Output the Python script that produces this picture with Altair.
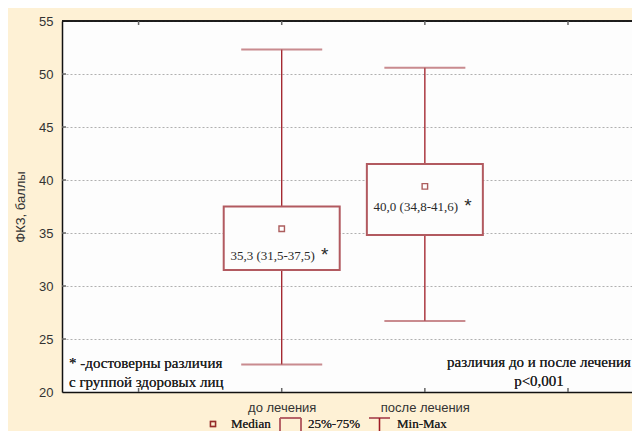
import json
import altair as alt
import pandas as pd

# ---------------- data ----------------
groups = ["до лечения", "после лечения"]
mins = [22.6, 26.7]
q1s = [31.5, 34.8]
medians = [35.4, 39.4]
q3s = [37.5, 41.5]
maxs = [52.3, 50.6]
labels = ["35,3 (31,5-37,5)", "40,0 (34,8-41,6)"]
label_y = [32.8, 37.5]
x_ticks = [0.5, 1.5, 2.5, 3.5]
y_ticks = [20, 25, 30, 35, 40, 45, 50, 55]

# ---------------- layout ----------------
W, H = 570, 371
PX = 145.7                      # pixels per x unit
XMAX = W / PX
BOX_W = 116
CAP_W = 81
BOX_C = "#B25A60"
WHISK_C = "#9E1B24"
SERIF = "Liberation Serif, Times New Roman, serif"
SANS = "Liberation Sans, Arial, sans-serif"

df = pd.DataFrame({
    "group": groups,
    "pos": [i + 1.5 for i in range(len(groups))],
    "mn": mins, "q1": q1s, "med": medians, "q3": q3s, "mx": maxs,
    "label": labels, "ly": label_y,
})
ticks_df = pd.DataFrame({"t": x_ticks})
yt_df = pd.DataFrame({"v": y_ticks[1:-1]})

xscale = alt.Scale(domain=[0, XMAX], nice=False, zero=False)
yscale = alt.Scale(domain=[20, 55], nice=False, zero=False)
label_expr = json.dumps(groups, ensure_ascii=False) + "[round(datum.value - 1.5)]"

base = alt.Chart(df)

whisker = base.mark_rule(color=WHISK_C, strokeWidth=1.3).encode(
    x=alt.X("pos:Q", scale=xscale,
            axis=alt.Axis(values=[1.5, 2.5], labelExpr=label_expr, title=None,
                          grid=False, tickSize=0, labelPadding=9,
                          labelFont=SANS, labelFontSize=13, labelColor="#333",
                          domainColor="#111", domainWidth=1.5)),
    y=alt.Y("mn:Q", scale=yscale,
            axis=alt.Axis(values=y_ticks, title="ФКЗ, баллы", tickSize=0,
                          labelPadding=9, labelFont=SANS, labelFontSize=13,
                          labelColor="#333", titleFont=SANS, titleFontSize=13,
                          titleFontWeight="normal", titleColor="#333",
                          titlePadding=11, grid=True, gridDash=[2, 2],
                          gridColor="#b0b0b0", gridWidth=1,
                          domainColor="#111", domainWidth=1.5)),
    y2="mx:Q",
)

boxes = base.mark_bar(size=BOX_W, fill="#fdfdfd", stroke=BOX_C, strokeWidth=2).encode(
    x=alt.X("pos:Q", scale=xscale), y=alt.Y("q1:Q", scale=yscale), y2="q3:Q"
)

cap_lo = base.mark_tick(orient="horizontal", size=CAP_W, thickness=2, color=BOX_C).encode(
    x=alt.X("pos:Q", scale=xscale), y=alt.Y("mn:Q", scale=yscale)
)
cap_hi = base.mark_tick(orient="horizontal", size=CAP_W, thickness=2, color=BOX_C).encode(
    x=alt.X("pos:Q", scale=xscale), y=alt.Y("mx:Q", scale=yscale)
)

med = base.mark_square(size=30, filled=False, color="#8B1A1A", strokeWidth=1.4, fill="#ffffff").encode(
    x=alt.X("pos:Q", scale=xscale), y=alt.Y("med:Q", scale=yscale)
)

txt = base.mark_text(font=SERIF, fontSize=13, color="#2a2a2a", dx=-9).encode(
    x=alt.X("pos:Q", scale=xscale), y=alt.Y("ly:Q", scale=yscale), text="label:N"
)
star = base.mark_text(font=SANS, fontSize=19, color="#2a2a2a", dx=43, dy=-1).encode(
    x=alt.X("pos:Q", scale=xscale), y=alt.Y("ly:Q", scale=yscale), text=alt.value("*")
)

# frame: top border and inward ticks
top_border = alt.Chart(df).mark_rule(color="#111", strokeWidth=1.5).encode(
    x=alt.value(0), x2=alt.value(W), y=alt.value(0)
)
xt_top = alt.Chart(ticks_df).mark_rule(color="#666", strokeWidth=1.5).encode(
    x=alt.X("t:Q", scale=xscale), y=alt.value(0), y2=alt.value(4)
)
xt_bot = alt.Chart(ticks_df).mark_rule(color="#666", strokeWidth=1.5).encode(
    x=alt.X("t:Q", scale=xscale), y=alt.value(H - 4), y2=alt.value(H)
)
yt = alt.Chart(yt_df).mark_rule(color="#666", strokeWidth=1.5).encode(
    y=alt.Y("v:Q", scale=yscale), x=alt.value(0), x2=alt.value(4)
)

# annotations
def note(text, x, y, align="left"):
    return alt.Chart(df).mark_text(font=SERIF, fontSize=15, color="#222", align=align,
                                   baseline="middle", text=text).encode(
        x=alt.value(x), y=alt.value(y))

notes = [
    note("* -достоверны различия", 7, 342),
    note("с группой здоровых лиц", 7, 361),
    note("различия до и после лечения", 477, 341, "center"),
    note("p<0,001", 477, 360, "center"),
]

# legend
LY = 403
LT = 397
leg = [
    alt.Chart(df).mark_square(size=26, filled=False, color="#8B1A1A", strokeWidth=1.4).encode(
        x=alt.value(151), y=alt.value(LY)),
    alt.Chart(df).mark_text(font=SERIF, fontSize=13, color="#222", align="left",
                            baseline="middle", text="Median").encode(x=alt.value(169), y=alt.value(LY)),
    alt.Chart(df).mark_rule(color=BOX_C, strokeWidth=1.5).encode(
        x=alt.value(218), x2=alt.value(239), y=alt.value(LT)),
    alt.Chart(df).mark_rule(color=BOX_C, strokeWidth=1.5).encode(
        x=alt.value(218), y=alt.value(LT), y2=alt.value(LT + 14)),
    alt.Chart(df).mark_rule(color=BOX_C, strokeWidth=1.5).encode(
        x=alt.value(239), y=alt.value(LT), y2=alt.value(LT + 14)),
    alt.Chart(df).mark_text(font=SERIF, fontSize=13, color="#222", align="left",
                            baseline="middle", text="25%-75%").encode(x=alt.value(246), y=alt.value(LY)),
    alt.Chart(df).mark_rule(color=BOX_C, strokeWidth=1.5).encode(
        x=alt.value(307), x2=alt.value(328), y=alt.value(LT)),
    alt.Chart(df).mark_rule(color=WHISK_C, strokeWidth=1.3).encode(
        x=alt.value(317.5), y=alt.value(LT), y2=alt.value(LT + 14)),
    alt.Chart(df).mark_text(font=SERIF, fontSize=13, color="#222", align="left",
                            baseline="middle", text="Min-Max").encode(x=alt.value(335), y=alt.value(LY)),
]

chart = alt.layer(
    whisker, boxes, cap_lo, cap_hi, med, txt, star,
    top_border, xt_top, xt_bot, yt, *notes, *leg
).properties(
    width=W, height=H,
    autosize=alt.AutoSizeParams(type="none"),
    padding={"left": 54, "top": 13, "right": 0, "bottom": 39},
    background="#FEF1D5",
).configure_view(stroke=None, fill="#FDFDFD")

chart.save("out.html", embed_options={"renderer": "svg", "actions": False})
